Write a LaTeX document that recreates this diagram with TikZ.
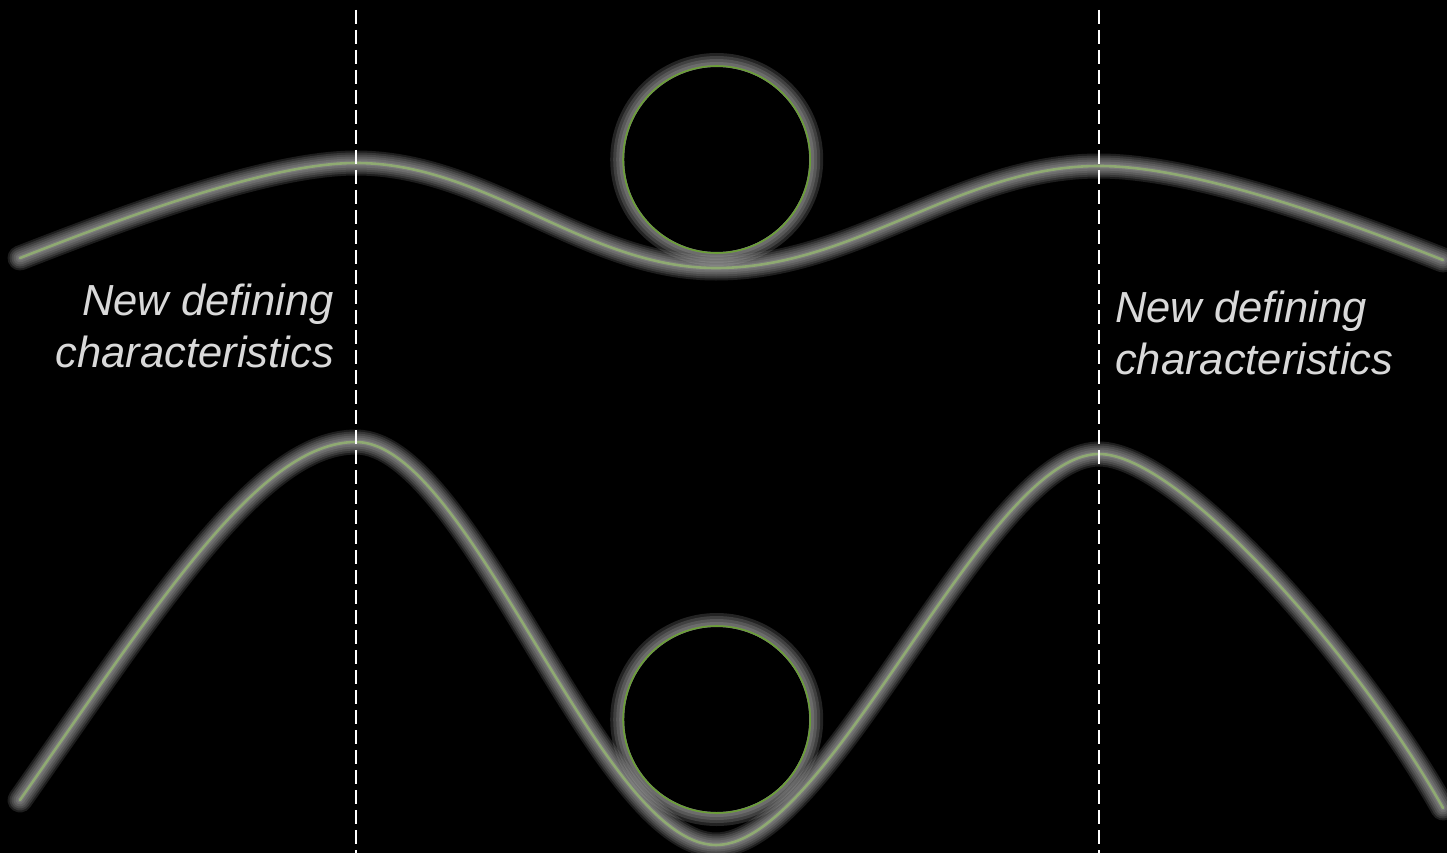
\documentclass[tikz,border=0pt]{standalone}
\usepackage{fontspec}
\setmainfont{Liberation Sans}
\definecolor{glowgray}{HTML}{D0D0D0}
\definecolor{curvegreen}{HTML}{8FAA72}
\definecolor{ballgreen}{HTML}{6A9E36}
\definecolor{labelgray}{HTML}{D9D9D9}
\begin{document}
\begin{tikzpicture}[x=1pt,y=-1pt,
  gl/.style={draw=glowgray, line cap=round, line join=round, line width=#1, opacity=0.14},
  glowline/.style={line cap=round, line join=round,
    preaction={gl=25pt}, preaction={gl=21pt}, preaction={gl=17pt},
    preaction={gl=13pt}, preaction={gl=9pt}, preaction={gl=5pt}},
  curveline/.style={glowline, draw=curvegreen, line width=2.6pt},
  ballline/.style={draw=ballgreen, line width=1.6pt},
  divider/.style={draw=white, line width=2pt, dash pattern=on 14pt off 6pt},
  captext/.style={font=\fontsize{43.5}{52}\selectfont\itshape, text=labelgray, inner sep=0pt}]
\fill[black] (0,0) rectangle (1447,853);
\useasboundingbox (0,0) rectangle (1447,853);
% dividers
\coordinate (dLt) at (356,10);
\coordinate (dLb) at (356,853);
\coordinate (dRt) at (1099,10);
\coordinate (dRb) at (1099,853);
% top curve
\coordinate (tA) at (20,258);
\coordinate (tP1) at (356,163);
\coordinate (tT) at (716,268);
\coordinate (tP2) at (1099,166);
\coordinate (tE) at (1443,260);
\draw[curveline] (tA) .. controls (130,215) and (270,163) .. (tP1)
  .. controls (487,163) and (585,268) .. (tT)
  .. controls (856,268) and (959,166) .. (tP2)
  .. controls (1190,166) and (1330,215) .. (tE);
% bottom curve
\coordinate (bA) at (20,800);
\coordinate (bP1) at (356,442);
\coordinate (bT) at (716,845);
\coordinate (bP2) at (1099,454);
\coordinate (bE) at (1443,808);
\draw[curveline] (bA) .. controls (160,600) and (260,442) .. (bP1)
  .. controls (470,442) and (600,845) .. (bT)
  .. controls (830,845) and (985,454) .. (bP2)
  .. controls (1180,454) and (1360,660) .. (bE);
% ball glows
\coordinate (cTop) at (716.7,159.5);
\coordinate (cBot) at (716.7,719.5);
\foreach \b in {cTop,cBot}{
  \foreach \w in {14,11,8,5,2}{
    \draw[glowgray, opacity=0.17, line width=\w pt] (\b) circle[radius=92.5pt+\w pt/2];
  }
}
% balls
\node[circle, minimum size=187pt, inner sep=0pt, ballline] (ballTop) at (cTop) {};
\node[circle, minimum size=187pt, inner sep=0pt, ballline] (ballBot) at (cBot) {};
% dashed dividers
\draw[divider] (dLt) -- (dLb);
\draw[divider] (dRt) -- (dRb);
% labels
\node[captext, anchor=base east] (leftA) at (334,315) {New defining};
\node[captext, anchor=base east] (leftB) at (334,367) {characteristics};
\node[captext, anchor=base west] (rightA) at (1115,322) {New defining};
\node[captext, anchor=base west] (rightB) at (1115,374) {characteristics};
\end{tikzpicture}
\end{document}
